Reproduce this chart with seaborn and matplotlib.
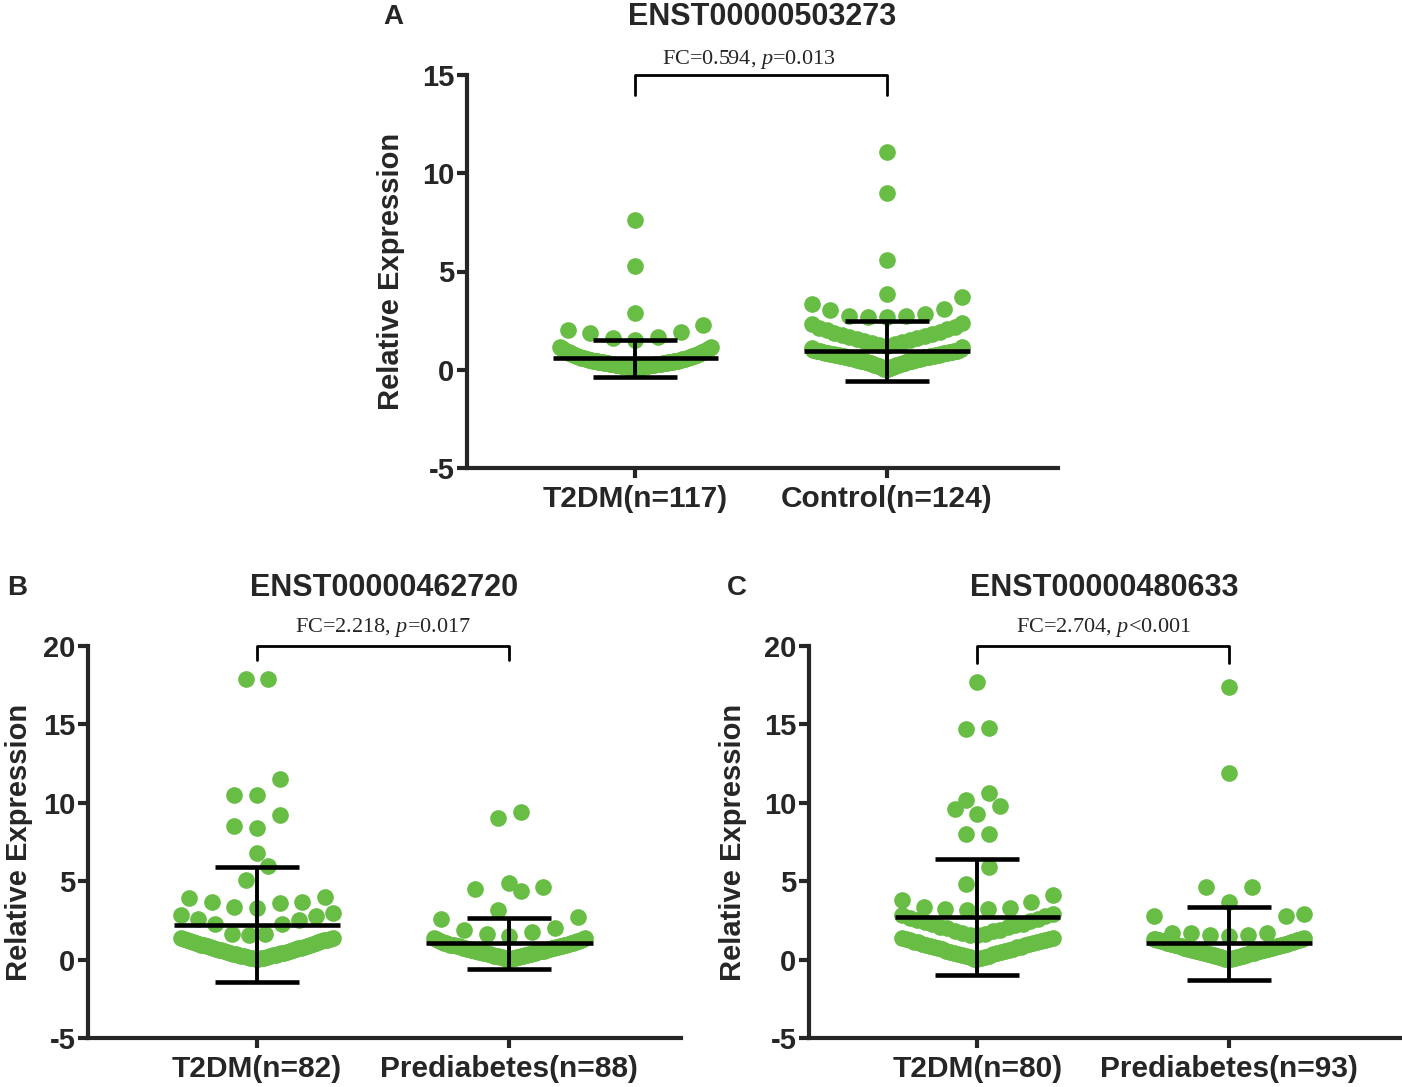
import numpy as np
import pandas as pd
import matplotlib
matplotlib.use("Agg")
import matplotlib.pyplot as plt
import seaborn as sns

# 数据: 每组的相对表达量
a_t2dm = [7.6, 5.3, 2.9, 2.0, 1.85, 1.6, 1.5, 1.65, 1.9, 2.3,
          0.03, 0.05, 0.06, 0.08, 0.09, 0.11, 0.12, 0.13, 0.15, 0.16,
          0.17, 0.18, 0.19, 0.20, 0.21, 0.22, 0.22, 0.23, 0.24, 0.25,
          0.26, 0.26, 0.27, 0.28, 0.29, 0.30, 0.30, 0.31, 0.32, 0.33,
          0.34, 0.34, 0.35, 0.36, 0.37, 0.38, 0.38, 0.39, 0.40, 0.41,
          0.42, 0.43, 0.44, 0.45, 0.46, 0.47, 0.48, 0.49, 0.50, 0.52,
          0.53, 0.55, 0.56, 0.58, 0.59, 0.61, 0.62, 0.64, 0.66, 0.68,
          0.70, 0.72, 0.74, 0.76, 0.78, 0.80, 0.83, 0.85, 0.88, 0.91,
          0.94, 0.97, 1.00, 1.04, 1.08, 1.12, 1.15, 1.18,
          0.07, 0.10, 0.14, 0.18, 0.21, 0.24, 0.27, 0.29, 0.31, 0.33,
          0.35, 0.37, 0.40, 0.43, 0.46, 0.51, 0.54, 0.57, 0.60, 0.63,
          0.67, 0.71, 0.75, 0.79, 0.84, 0.90, 0.96, 1.02, 1.10]
a_control = [11.1, 9.0, 5.6, 3.85,
             3.7, 3.1, 2.85, 2.75, 2.7, 2.7, 2.75, 3.05, 3.35,
             2.4, 2.35, 2.2, 2.15, 2.05, 2.0, 1.9, 1.85, 1.8, 1.75,
             1.7, 1.65, 1.6, 1.55, 1.5, 1.45, 1.4, 1.35, 1.3, 1.25,
             1.22, 1.15, 1.1, 1.05,
             0.02, 0.04, 0.06, 0.08, 0.10, 0.12, 0.14, 0.15, 0.17, 0.19,
             0.20, 0.22, 0.23, 0.25, 0.26, 0.28, 0.29, 0.31, 0.32, 0.34,
             0.35, 0.36, 0.38, 0.39, 0.40, 0.42, 0.43, 0.44, 0.46, 0.47,
             0.48, 0.50, 0.51, 0.52, 0.54, 0.55, 0.56, 0.58, 0.59, 0.60,
             0.61, 0.62, 0.63, 0.64, 0.65, 0.66, 0.67, 0.68, 0.69, 0.70,
             0.71, 0.72, 0.73, 0.74, 0.75, 0.76, 0.77, 0.78, 0.79, 0.80,
             0.81, 0.82, 0.83, 0.84, 0.85, 0.86, 0.87, 0.88, 0.89, 0.90,
             0.91, 0.92, 0.93, 0.94, 0.95, 0.96, 0.97, 0.98, 0.99, 1.00,
             0.45, 0.53, 0.57, 0.70, 0.77, 0.84, 0.93]
b_t2dm = [17.9, 17.9, 11.5, 10.5, 10.5, 9.2, 8.5, 8.4, 6.8, 6.0, 5.1,
          3.3, 3.35, 3.6, 3.7, 3.7, 3.9, 4.0,
          1.55, 1.65, 1.65, 2.3, 2.3, 2.5, 2.6, 2.75, 2.85, 3.0,
          0.02, 0.05, 0.08, 0.10, 0.12, 0.13, 0.15, 0.18, 0.20, 0.22,
          0.25, 0.27, 0.30, 0.32, 0.33, 0.35, 0.37, 0.40, 0.42, 0.45,
          0.48, 0.50, 0.53, 0.56, 0.59, 0.60, 0.62, 0.65, 0.68, 0.71,
          0.74, 0.77, 0.80, 0.83, 0.86, 0.89, 0.90, 0.92, 0.95, 0.98,
          1.01, 1.04, 1.07, 1.10, 1.13, 1.16, 1.19, 1.22, 1.25, 1.28,
          1.31, 1.34, 1.36, 1.38]
b_prediab = [9.4, 9.0, 4.9, 4.6, 4.5, 4.4, 3.15,
             2.6, 2.7, 1.5, 1.65, 1.75, 1.9, 2.0,
             0.02, 0.04, 0.06, 0.08, 0.10, 0.12, 0.14, 0.15, 0.16, 0.18,
             0.20, 0.22, 0.24, 0.25, 0.26, 0.28, 0.30, 0.32, 0.34, 0.35,
             0.36, 0.38, 0.40, 0.42, 0.44, 0.45, 0.46, 0.48, 0.50, 0.52,
             0.54, 0.55, 0.56, 0.58, 0.60, 0.62, 0.64, 0.65, 0.66, 0.68,
             0.70, 0.72, 0.74, 0.75, 0.76, 0.78, 0.80, 0.82, 0.84, 0.85,
             0.86, 0.88, 0.90, 0.92, 0.94, 0.95, 0.96, 0.98, 1.00, 1.03,
             1.05, 1.06, 1.09, 1.12, 1.15, 1.18, 1.20, 1.21, 1.24, 1.27,
             1.30, 1.33, 1.35, 1.36]
c_t2dm = [17.7, 14.8, 14.7, 10.6, 10.2, 9.8, 9.6, 9.3, 8.0, 8.0, 5.9, 4.85,
          3.15, 3.2, 3.2, 3.3, 3.35, 3.7, 3.8, 4.1,
          1.55, 1.6, 1.65, 1.7, 1.8, 1.85, 1.9, 2.0, 2.05, 2.1,
          2.2, 2.25, 2.3, 2.4, 2.45, 2.5, 2.6, 2.65, 2.75, 2.85, 2.9,
          0.03, 0.06, 0.10, 0.14, 0.18, 0.22, 0.26, 0.30, 0.34, 0.38,
          0.42, 0.46, 0.50, 0.54, 0.58, 0.62, 0.66, 0.70, 0.74, 0.78,
          0.82, 0.86, 0.90, 0.94, 0.98, 1.02, 1.06, 1.10, 1.14, 1.18,
          1.22, 1.26, 1.30, 1.33, 1.36, 1.38, 0.45, 0.80, 1.12]
c_prediab = [17.4, 11.9, 4.6, 4.6, 3.7,
             2.9, 2.8, 2.8, 1.7, 1.7, 1.7, 1.6, 1.6, 1.5,
             0.02, 0.04, 0.05, 0.07, 0.09, 0.10, 0.12, 0.14, 0.15, 0.17,
             0.19, 0.20, 0.22, 0.24, 0.25, 0.27, 0.29, 0.30, 0.32, 0.34,
             0.35, 0.37, 0.39, 0.40, 0.42, 0.44, 0.45, 0.47, 0.49, 0.50,
             0.52, 0.54, 0.55, 0.57, 0.59, 0.60, 0.62, 0.64, 0.65, 0.67,
             0.69, 0.70, 0.72, 0.74, 0.75, 0.77, 0.79, 0.80, 0.82, 0.84,
             0.85, 0.87, 0.89, 0.90, 0.92, 0.94, 0.95, 0.97, 0.99, 1.00,
             1.02, 1.04, 1.06, 1.08, 1.10, 1.12, 1.14, 1.16, 1.18, 1.20,
             1.22, 1.24, 1.26, 1.28, 1.30, 1.32, 1.33, 1.34, 1.35]

a_groups = ["T2DM(n=117)", "Control(n=124)"]
b_groups = ["T2DM(n=82)", "Prediabetes(n=88)"]
c_groups = ["T2DM(n=80)", "Prediabetes(n=93)"]

# 均值 / 标准差 (图上读出)
a_mean = [0.58, 0.97]
a_sd = [0.93, 1.53]
b_mean = [2.22, 1.03]
b_sd = [3.68, 1.65]
c_mean = [2.74, 1.03]
c_sd = [3.70, 2.30]

titles = ["ENST00000503273", "ENST00000462720", "ENST00000480633"]
stats = ["FC=0.594, $p$=0.013", "FC=2.218, $p$=0.017", "FC=2.704, $p$<0.001"]
letters = ["A", "B", "C"]

GREEN = "#68bd45"

sns.set_style("ticks")
plt.rcParams["font.family"] = ["Liberation Sans", "DejaVu Sans"]
plt.rcParams["font.weight"] = "bold"
plt.rcParams["axes.labelweight"] = "bold"
plt.rcParams["axes.titleweight"] = "bold"
plt.rcParams["axes.unicode_minus"] = False
plt.rcParams["mathtext.fontset"] = "custom"
plt.rcParams["mathtext.rm"] = "Liberation Serif:weight=normal"
plt.rcParams["mathtext.it"] = "Liberation Serif:slant=italic:weight=normal"


def spread(vals, bin_h, bin_o, gap=0.09, half=0.30):
    # Prism 风格的散点排布: 按值分段, 每段内从中间向两边排
    vals = np.asarray(vals, float)
    off = np.zeros(len(vals))
    bins = np.floor((vals - bin_o) / bin_h).astype(int)
    for b in np.unique(bins):
        idx = np.where(bins == b)[0]
        idx = idx[np.argsort(vals[idx], kind="stable")]
        n = len(idx)
        step = gap if n < 2 else min(gap, 2 * half / (n - 1))
        slots = (np.arange(n) - (n - 1) / 2) * step
        slots = slots[np.argsort(np.abs(slots), kind="stable")]
        off[idx] = slots
    return off


def draw_panel(ax, groups, data, means, sds, ytop, leg_low, stat, stat_x, stat_y,
               title, bin_h, bin_o, label_x):
    frames = []
    for i, (g, v) in enumerate(zip(groups, data)):
        v = np.asarray(v, float)
        frames.append(pd.DataFrame({"group": g, "pos": i + spread(v, bin_h, bin_o), "value": v}))
    df = pd.concat(frames, ignore_index=True)
    sns.scatterplot(data=df, x="pos", y="value", color=GREEN, s=144, linewidth=0,
                    legend=False, ax=ax, zorder=2)
    x = np.arange(len(groups))
    ax.hlines(means, x - 0.33, x + 0.33, color="black", lw=3.3, zorder=3)
    ax.errorbar(x, means, yerr=sds, fmt="none", ecolor="black", elinewidth=2.8,
                capsize=30, capthick=3.3, zorder=3)

    ax.set_xlim(-0.67, 1.68)
    ax.set_ylim(-5, ytop)
    ax.set_yticks(np.arange(-5, ytop + 1, 5))
    ax.set_xticks(x)
    ax.set_xticklabels(groups, fontsize=21.5, fontweight="bold")
    ax.tick_params(axis="y", labelsize=21, width=3, length=7, pad=2)
    ax.tick_params(axis="x", width=3, length=7, pad=5)
    for lab in ax.get_yticklabels():
        lab.set_fontweight("bold")
    ax.set_xlabel("")
    ax.set_ylabel("Relative Expression", fontsize=21, fontweight="bold")
    ax.yaxis.set_label_coords(label_x, 0.5)
    sns.despine(ax=ax)
    for sp in ["left", "bottom"]:
        ax.spines[sp].set_linewidth(3)
    ax.set_title(title, fontsize=22, fontweight="bold", pad=36)

    # 显著性括号
    ax.plot([0, 0, 1, 1], [leg_low, ytop, ytop, leg_low], color="black", lw=2,
            clip_on=False, zorder=4)
    ax.text(stat_x, stat_y, stat, ha="center", va="center", fontsize=16,
            family="Liberation Serif", fontweight="normal", clip_on=False)


fig = plt.figure(figsize=(14.02, 10.87), dpi=100)
ax_a = fig.add_axes([467 / 1402, 1 - 468 / 1087, 591 / 1402, 393 / 1087])
ax_b = fig.add_axes([88 / 1402, 1 - 1038 / 1087, 593 / 1402, 392 / 1087])
ax_c = fig.add_axes([809 / 1402, 1 - 1038 / 1087, 591 / 1402, 392 / 1087])

draw_panel(ax_a, a_groups, [a_t2dm, a_control], a_mean, a_sd, 15, 14.0,
           stats[0], 0.45, 15.8, titles[0], 1.3, -0.1, -0.105)
draw_panel(ax_b, b_groups, [b_t2dm, b_prediab], b_mean, b_sd, 20, 19.1,
           stats[1], 0.5, 21.2, titles[1], 1.7, -0.3, -0.092)
draw_panel(ax_c, c_groups, [c_t2dm, c_prediab], c_mean, c_sd, 20, 18.9,
           stats[2], 0.5, 21.2, titles[2], 1.7, -0.3, -0.105)

for (px, py), letter in zip([(393, 17), (17, 588), (737, 588)], letters):
    fig.text(px / 1402, 1 - py / 1087, letter, fontsize=20, fontweight="bold",
             ha="center", va="center")

fig.savefig("out.png", dpi=100)
